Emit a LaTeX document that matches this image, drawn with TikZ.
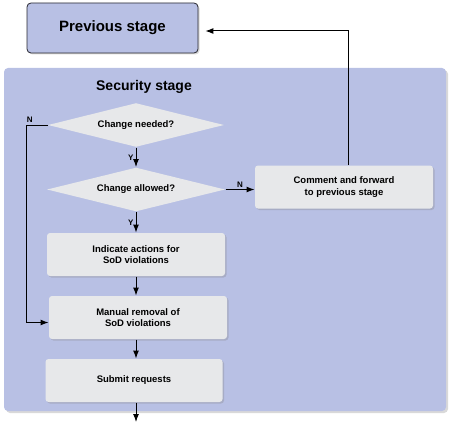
\documentclass[tikz,border=0pt]{standalone}
\usepackage{fontspec}
\setmainfont{Liberation Sans}
\usetikzlibrary{shapes.geometric,shadows,arrows.meta}

\definecolor{stagefill}{RGB}{184,192,228}
\definecolor{boxfill}{RGB}{231,232,234}
\definecolor{boxline}{RGB}{40,40,48}

\tikzset{
	stepbox/.style={rectangle, rounded corners=3pt, fill=boxfill, align=center,
		minimum width=178pt, minimum height=43pt, inner sep=2pt,
		font=\fontsize{9.5}{11.5}\selectfont\bfseries,
		drop shadow={opacity=0.3, shadow xshift=1.5pt, shadow yshift=-1.5pt}},
	decision/.style={diamond, aspect=4, fill=boxfill, inner sep=0pt,
		minimum width=176pt, minimum height=44pt,
		font=\fontsize{9.5}{11.5}\selectfont\bfseries},
	yn/.style={font=\fontsize{8}{9}\selectfont\bfseries, inner sep=2pt}
}

\begin{document}
\begin{tikzpicture}[>={Latex[length=8pt,width=6pt]}, x=1pt, y=-1pt, line width=1pt]
	\useasboundingbox (0,0) rectangle (458,428);
	
	% Stages
	\node[rectangle, rounded corners=4pt, fill=stagefill, draw=boxline, line width=0.8pt,
		minimum width=171pt, minimum height=50pt,
		font=\fontsize{15}{18}\selectfont\bfseries,
		drop shadow={opacity=0.3, shadow xshift=1.5pt, shadow yshift=-1.5pt}]
		(prev) at (112.5,28) {Previous stage};
	\node[rectangle, rounded corners=4pt, fill=stagefill,
		minimum width=442pt, minimum height=343pt,
		drop shadow={opacity=0.3, shadow xshift=2pt, shadow yshift=-2pt}]
		(sec) at (225,239.5) {};
	\node[font=\fontsize{14}{17}\selectfont\bfseries] (sectitle) at (144,87) {Security stage};
	
	% Decisions
	\node[decision] (need) at (136,125) {Change needed?};
	\node[decision, minimum width=178pt] (allowed) at (136,189.5) {Change allowed?};
	
	% Steps
	\node[stepbox] (comment) at (344,187) {Comment and forward\\to previous stage};
	\node[stepbox] (indicate) at (136,254.5) {Indicate actions for\\SoD violations};
	\node[stepbox] (manual) at (138,317.5) {Manual removal of\\SoD violations};
	\node[stepbox, minimum width=177pt] (submit) at (134,380.5) {Submit requests};
	
	\coordinate (out) at (136,422);
	
	% Lines
	\draw[->] (need.south) -- node[yn, left, midway] {Y} (allowed.north);
	\draw[->] (allowed.south) -- node[yn, left, midway] {Y} (indicate.north);
	\draw[->] (allowed.east) -- node[yn, above, midway] {N} (allowed.east -| comment.west);
	\draw[->] (indicate.south) -- (indicate.south |- manual.north);
	\draw[->] (indicate.south |- manual.south) -- (indicate.south |- submit.north);
	\draw[->] (indicate.south |- submit.south) -- (out);
	
	\draw[->] (need.west) -- node[yn, above, pos=0.85] {N} ++(-21,0) |- ([yshift=-5pt]manual.west);
	\draw[->] ([xshift=4pt]comment.north) |- ([xshift=7pt, yshift=-3pt]prev.east);
	
\end{tikzpicture}
\end{document}
